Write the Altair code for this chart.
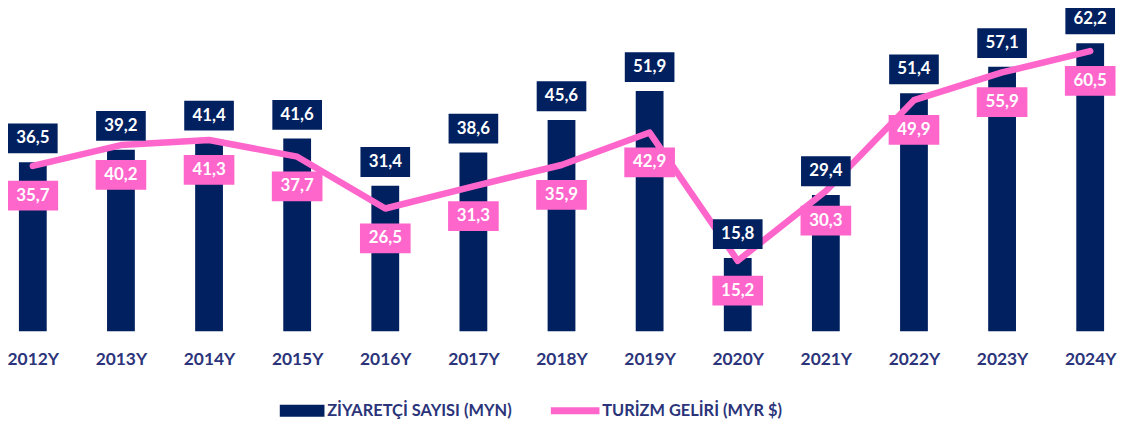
import altair as alt
import pandas as pd

years = ["2012Y", "2013Y", "2014Y", "2015Y", "2016Y", "2017Y", "2018Y",
         "2019Y", "2020Y", "2021Y", "2022Y", "2023Y", "2024Y"]
visitors = [36.5, 39.2, 41.4, 41.6, 31.4, 38.6, 45.6, 51.9, 15.8, 29.4, 51.4, 57.1, 62.2]
revenue = [35.7, 40.2, 41.3, 37.7, 26.5, 31.3, 35.9, 42.9, 15.2, 30.3, 49.9, 55.9, 60.5]
s1 = "ZİYARETÇİ SAYISI (MYN)"
s2 = "TURİZM GELİRİ (MYR $)"

NAVY = "#002060"
PINK = "#FF66CC"
TXT = "#2B347A"
FONT = "Lato"

df = pd.DataFrame({
    "year": years,
    "visitors": visitors,
    "revenue": revenue,
    "vlab": [f"{v:.1f}".replace(".", ",") for v in visitors],
    "rlab": [f"{v:.1f}".replace(".", ",") for v in revenue],
    "s1": s1,
    "s2": s2,
})

x = alt.X("year:N", sort=years,
          scale=alt.Scale(type="point", range=[25, 1090], padding=0),
          axis=alt.Axis(title=None, domain=False, ticks=False, grid=False,
                        labelAngle=0, labelFont=FONT, labelFontSize=17.5,
                        labelFontWeight="bold", labelColor=TXT, labelPadding=20))
yscale = alt.Scale(domain=[0, 69.5], nice=False, zero=True)

base = alt.Chart(df)

bars = base.mark_bar(size=28).encode(
    x=x,
    y=alt.Y("visitors:Q", scale=yscale, axis=None),
    color=alt.Color("s1:N", scale=alt.Scale(domain=[s1], range=[NAVY]),
                    legend=alt.Legend(title=None, orient="none", legendX=288, legendY=396,
                                      symbolType="M-7.5,-2L7.5,-2L7.5,2L-7.5,2Z",
                                      symbolSize=36, symbolStrokeWidth=0,
                                      labelFont=FONT, labelFontSize=16.5, labelFontWeight="bold",
                                      labelColor=TXT, labelOffset=17, labelLimit=400, padding=0)),
)

line = base.mark_line(strokeWidth=6.5, strokeCap="round", strokeJoin="round").encode(
    x=x,
    y=alt.Y("revenue:Q", scale=yscale, axis=None),
    stroke=alt.Stroke("s2:N", scale=alt.Scale(domain=[s2], range=[PINK]),
                      legend=alt.Legend(title=None, orient="none", legendX=563, legendY=396,
                                        symbolType="M-7,0L7,0", symbolSize=49,
                                        symbolStrokeWidth=7,
                                        labelFont=FONT, labelFontSize=16.5, labelFontWeight="bold",
                                        labelColor=TXT, labelOffset=19, labelLimit=400, padding=0)),
)

vbox = base.mark_rect(width=50, yOffset=-9, y2Offset=-39, color=NAVY).encode(
    x=x, y=alt.Y("visitors:Q", scale=yscale, axis=None), y2="visitors:Q")
vtxt = base.mark_text(dy=-24, baseline="middle", font=FONT, fontSize=17,
                      fontWeight="bold", color="white").encode(
    x=x, y=alt.Y("visitors:Q", scale=yscale, axis=None), text="vlab:N")

rbox = base.mark_rect(width=51, yOffset=15, y2Offset=45, color=PINK).encode(
    x=x, y=alt.Y("revenue:Q", scale=yscale, axis=None), y2="revenue:Q")
rtxt = base.mark_text(dy=30, baseline="middle", font=FONT, fontSize=17,
                      fontWeight="bold", color="white").encode(
    x=x, y=alt.Y("revenue:Q", scale=yscale, axis=None), text="rlab:N")

chart = alt.layer(bars, line, vbox, vtxt, rbox, rtxt).resolve_scale(
    color="independent"
).properties(
    width=1118, height=324,
    background="white",
    autosize=alt.AutoSizeParams(type="none"),
    padding={"left": 0, "top": 0, "right": 0, "bottom": 88},
).configure_view(stroke=None, strokeWidth=0)

chart.save("out.html", embed_options={"renderer": "svg", "actions": False})
